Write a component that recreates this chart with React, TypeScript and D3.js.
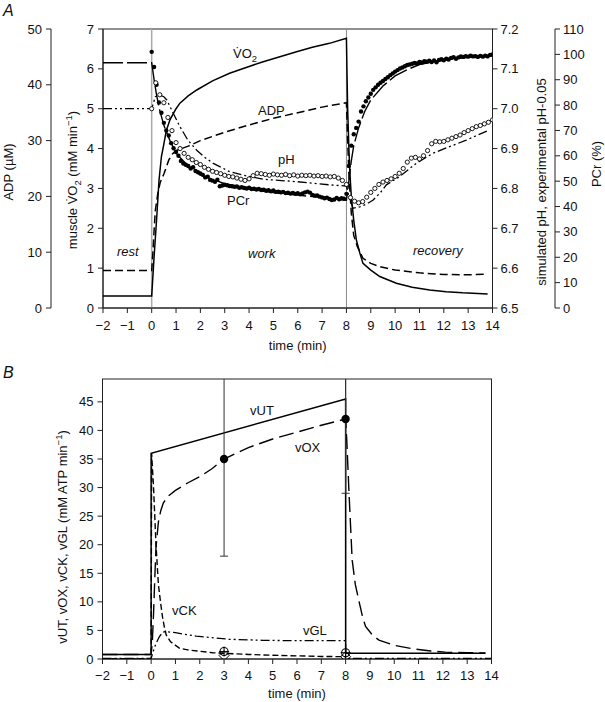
import React from "react";
import * as d3 from "d3";

const FONT = "'Liberation Sans', Arial, Helvetica, sans-serif";

// ---------- tick values ----------
const xTickValues = [-2, -1, 0, 1, 2, 3, 4, 5, 6, 7, 8, 9, 10, 11, 12, 13, 14];
const vo2TickValues = [0, 1, 2, 3, 4, 5, 6, 7];
const adpTickValues = [0, 10, 20, 30, 40, 50];
const phTickValues = [6.5, 6.6, 6.7, 6.8, 6.9, 7.0, 7.1, 7.2];
const pcrTickValues = [0, 10, 20, 30, 40, 50, 60, 70, 80, 90, 100, 110];
const rateTickValues = [0, 5, 10, 15, 20, 25, 30, 35, 40, 45];

// ---------- panel A: simulated curves [time, value] ----------
const vo2Sim: [number, number][] = [
  [-2, 0.3], [0, 0.3], [0.05, 0.8], [0.1, 1.3], [0.2, 2.2], [0.3, 3.2], [0.4, 3.8], [0.48, 4.05],
  [0.6, 4.45], [0.75, 4.72], [1, 5.0], [1.16, 5.14], [1.5, 5.32], [1.85, 5.47], [2.5, 5.7],
  [3.2, 5.89], [4, 6.06], [4.58, 6.18], [5.3, 6.31], [5.95, 6.43], [6.6, 6.54], [7.3, 6.64],
  [8, 6.77], [8.02, 6.0], [8.05, 5.0], [8.1, 4.0], [8.15, 3.3], [8.2, 2.8], [8.3, 2.2],
  [8.41, 1.7], [8.55, 1.38], [8.68, 1.12], [9, 0.95], [9.37, 0.79], [10.05, 0.62], [10.7, 0.52],
  [11.42, 0.45], [12.1, 0.41], [12.78, 0.38], [13.8, 0.35],
];
const adpSim: [number, number][] = [
  [-2, 6.7], [0, 6.7], [0.05, 10], [0.1, 14], [0.15, 17.5], [0.25, 20.5], [0.35, 22.5],
  [0.5, 24], [0.7, 26.5], [0.85, 27.6], [1, 28.2], [1.5, 29], [2, 30], [3, 31.5], [4, 32.8],
  [5, 34], [6, 35], [7, 36], [8, 36.8], [8.05, 30], [8.1, 24], [8.2, 17], [8.3, 13],
  [8.45, 11], [8.68, 8.9], [9, 8], [9.37, 7.4], [10, 6.8], [11, 6.3], [12, 6.0], [13, 5.95],
  [13.8, 6.1],
];
const phSim: [number, number][] = [
  [-2, 7.0], [0, 7.0], [0.15, 7.03], [0.34, 7.034], [0.5, 7.03], [0.62, 7.022], [0.89, 6.988],
  [1.16, 6.955], [1.5, 6.92], [1.85, 6.896], [2.2, 6.877], [2.53, 6.863], [3.2, 6.842],
  [4, 6.83], [4.58, 6.823], [5.95, 6.817], [7.3, 6.809], [8, 6.806], [8.1, 6.78], [8.27, 6.75],
  [8.55, 6.754], [8.8, 6.76], [9.1, 6.771], [9.4, 6.79], [9.64, 6.809], [10.19, 6.83],
  [10.87, 6.863], [11.55, 6.888], [12.24, 6.905], [12.92, 6.921], [13.88, 6.947],
];
const pcrSim: [number, number][] = [
  [-2, 96.7], [0, 96.7], [0.1, 90], [0.2, 84], [0.3, 79], [0.5, 72], [0.75, 66], [1, 61],
  [1.5, 56], [2, 52.5], [3, 49], [4, 47], [5, 45.5], [6, 44.5], [7, 43.5], [8, 42.5],
  [8.1, 50], [8.2, 58], [8.3, 64], [8.5, 71], [8.75, 77.5], [9, 82], [9.5, 87.5], [10, 91.5],
  [10.5, 94], [11, 96], [12, 97.8], [13, 98.8], [14, 99.3],
];

// ---------- panel A: experimental data ----------
const pcrExpStep = 0.1; // min
const pcrExp = [
  101, 95, 88, 81, 77, 73, 70, 68, 65, 63,
  61.5, 60, 58, 57, 56.5, 56, 55, 55.5, 54, 53.5,
  53, 52.5, 51.5, 51.8, 50.5, 50.2, 49.8, 50.6, 48, 48.3,
  48.6, 48.4, 48.1, 48, 47.8, 47.9, 47.4, 47.6, 47.3, 47.1,
  47.4, 46.9, 47, 46.7, 46.9, 46.5, 46.6, 46.2, 46.4, 46,
  46.3, 45.8, 45.9, 45.6, 45.8, 45.3, 45.5, 45.1, 45.4, 45,
  45.3, 44.8, 45.2, 45.6, 45.9, 45.5, 44.6, 44.3, 44.4, 43.9,
  43.6, 43.3, 43.5, 43, 42.6, 42.8, 43.4, 42.9, 43.3, 43.1,
  45, 56, 64, 68.5, 71, 73.5, 77.5, 79.5, 81.5, 83,
  84.5, 86, 87, 88, 88.8, 89.5, 90.3, 91, 91.8, 92.5,
  93.2, 93.8, 94.4, 94.8, 95.3, 95.8, 96, 96.3, 96.6, 96.4,
  97, 96.8, 97.3, 97.1, 97.5, 97, 97.6, 96.9, 97.8, 98.1,
  97.7, 98.3, 98, 98.6, 98.9, 98.3, 98.8, 99.2, 99, 99.3,
  99.1, 99.5, 99.2, 99.3, 99, 99.4, 99.1, 99.5, 99.2, 99.8,
  100,
];
const phExpStep = 1 / 6; // min
const phExp = [
  7.0, 7.065, 7.035, 7.015, 6.978, 6.945,
  6.915, 6.9, 6.888, 6.878, 6.872, 6.865,
  6.86, 6.853, 6.848, 6.843, 6.84, 6.837,
  6.833, 6.83, 6.829, 6.826, 6.823, 6.82,
  6.824, 6.832, 6.838, 6.837, 6.835, 6.833,
  6.836, 6.834, 6.833, 6.835, 6.832, 6.834,
  6.831, 6.833, 6.832, 6.833, 6.831, 6.832,
  6.83, 6.831, 6.829, 6.83, 6.826, 6.82,
  6.81, 6.777, 6.768, 6.764, 6.767, 6.778,
  6.79, 6.8, 6.81, 6.816, 6.82, 6.824,
  6.83, 6.838, 6.85, 6.866, 6.876, 6.878,
  6.874, 6.882, 6.895, 6.912, 6.918, 6.917,
  6.918, 6.922, 6.926, 6.93, 6.934, 6.94,
  6.945, 6.95, 6.955, 6.958, 6.962, 6.966,
  6.972,
];

// ---------- panel B ----------
const vUT: [number, number][] = [[-2, 0.8], [0, 0.8], [0, 36], [8, 45.5], [8, 1.0], [13.75, 1.0]];
const vOX: [number, number][] = [
  [-2, 0.8], [0, 0.8], [0.05, 3], [0.1, 8], [0.15, 14], [0.2, 19.5], [0.3, 24], [0.4, 26],
  [0.5, 27.3], [0.7, 28.5], [1, 29.5], [1.5, 30.8], [2, 31.9], [2.5, 33.3], [3, 35], [4, 37],
  [5, 38.5], [6, 39.7], [7, 40.9], [8, 42], [8.05, 38], [8.14, 29], [8.27, 17.3], [8.4, 13],
  [8.54, 10.3], [8.7, 7.3], [8.82, 5.7], [9.1, 4.2], [9.37, 3.3], [10, 2.4], [10.73, 1.8],
  [11.5, 1.4], [12.1, 1.2], [13, 1.1], [13.75, 1.05],
];
const vCK: [number, number][] = [
  [-2, 0.05], [0, 0.05], [0.02, 36], [0.1, 30], [0.2, 20], [0.3, 13], [0.4, 9.5], [0.48, 7],
  [0.55, 5.5], [0.62, 4.2], [0.8, 3.0], [1.16, 1.9], [1.5, 1.6], [2, 1.35], [2.53, 1.1],
  [3, 1.0], [4, 0.8], [5, 0.65], [6, 0.55], [7, 0.45], [8, 0.4],
];
const vGL: [number, number][] = [
  [-2, 0.1], [0, 0.1], [0.1, 1.5], [0.2, 2.7], [0.34, 3.9], [0.48, 4.7], [0.6, 4.8], [1, 4.6],
  [1.85, 4.0], [3.2, 3.45], [4.58, 3.27], [5.95, 3.2], [8, 3.2], [8, 0.1], [14, 0.1],
];
const vOXMeasured: [number, number, number][] = [[3, 35, 17], [8, 42, 13]]; // time, mean, sd
const vCKMeasured: [number, number][] = [[3, 1.3], [8, 1.1]];

// ---------- layout ----------
const xA = d3.scaleLinear().domain([-2, 14]).range([103, 492.5]);
const yVO2 = d3.scaleLinear().domain([0, 7]).range([308, 29]);
const yADP = d3.scaleLinear().domain([0, 50]).range([308, 29]);
const yPH = d3.scaleLinear().domain([6.5, 7.2]).range([308, 29]);
const yPCr = d3.scaleLinear().domain([0, 110]).range([308, 29]);

const xB = d3.scaleLinear().domain([-2, 14]).range([102.5, 491.5]);
const yB = d3.scaleLinear().domain([0, 49]).range([659, 379]);

const fmtX = (v: number) => (v < 0 ? "\u2212" + Math.abs(v) : String(v));

function path(data: [number, number][], x: d3.ScaleLinear<number, number>, y: d3.ScaleLinear<number, number>) {
  return d3.line<[number, number]>().x((d) => x(d[0])).y((d) => y(d[1]))(data) || "";
}

const AX = "#222";
const TS = 13;
const SUB = 9.5;

function XAxis({ x, y0, labelY, titleY }: { x: d3.ScaleLinear<number, number>; y0: number; labelY: number; titleY: number }) {
  const [a, b] = x.range();
  return (
    <g>
      <line x1={a} x2={b} y1={y0} y2={y0} stroke={AX} strokeWidth={1} />
      {xTickValues.map((t) => (
        <g key={t}>
          <line x1={x(t)} x2={x(t)} y1={y0} y2={y0 + 5} stroke={AX} />
          <text x={x(t)} y={labelY} textAnchor="middle" fontSize={TS}>{fmtX(t)}</text>
        </g>
      ))}
      <text x={(a + b) / 2} y={titleY} textAnchor="middle" fontSize={TS}>time (min)</text>
    </g>
  );
}

function YAxisLeft({ y, ticks, ax, fmt }: { y: d3.ScaleLinear<number, number>; ticks: number[]; ax: number; fmt?: (v: number) => string }) {
  const [r0, r1] = y.range();
  return (
    <g>
      <line x1={ax} x2={ax} y1={r0} y2={r1} stroke={AX} />
      {ticks.map((t) => (
        <g key={t}>
          <line x1={ax - 5} x2={ax} y1={y(t)} y2={y(t)} stroke={AX} />
          <text x={ax - 9} y={y(t) + 4.5} textAnchor="end" fontSize={TS}>{fmt ? fmt(t) : String(t)}</text>
        </g>
      ))}
    </g>
  );
}

function YAxisRight({ y, ticks, ax, fmt }: { y: d3.ScaleLinear<number, number>; ticks: number[]; ax: number; fmt?: (v: number) => string }) {
  const [r0, r1] = y.range();
  return (
    <g>
      <line x1={ax} x2={ax} y1={r0} y2={r1} stroke={AX} />
      {ticks.map((t) => (
        <g key={t}>
          <line x1={ax} x2={ax + 5} y1={y(t)} y2={y(t)} stroke={AX} />
          <text x={ax + 8} y={y(t) + 4.5} textAnchor="start" fontSize={TS}>{fmt ? fmt(t) : String(t)}</text>
        </g>
      ))}
    </g>
  );
}

export default function App() {
  const pcrPts = pcrExp.map((v, i) => [i * pcrExpStep, v] as [number, number]);
  const phPts = phExp.map((v, i) => [i * phExpStep, v] as [number, number]);
  const dashDotDot = "9,3,2,3,2,3";

  return (
    <svg
      width={605}
      height={702}
      style={{ position: "absolute", left: 0, top: 0, background: "#fff" }}
      fontFamily={FONT}
      fontSize={TS}
      fill="#111"
    >
      <defs>
        <clipPath id="clipA">
          <rect x={103} y={29} width={389.5} height={279} />
        </clipPath>
        <clipPath id="clipB">
          <rect x={102.5} y={379} width={389} height={280} />
        </clipPath>
      </defs>

      {/* ================= Panel A ================= */}
      <text x={3} y={16} fontSize={16} fontStyle="italic">A</text>

      <rect x={103} y={29} width={389.5} height={279} fill="none" stroke={AX} strokeWidth={1} />
      <line x1={xA(0)} x2={xA(0)} y1={29} y2={308} stroke="#aaa" strokeWidth={1.5} />
      <line x1={xA(8)} x2={xA(8)} y1={29} y2={308} stroke="#888" strokeWidth={1} />

      <XAxis x={xA} y0={308} labelY={330} titleY={350} />
      <YAxisLeft y={yVO2} ticks={vo2TickValues} ax={103} />
      <YAxisLeft y={yADP} ticks={adpTickValues} ax={51} />
      <YAxisRight y={yPH} ticks={phTickValues} ax={492.5} fmt={(v) => v.toFixed(1)} />
      <YAxisRight y={yPCr} ticks={pcrTickValues} ax={555} />

      {/* axis titles */}
      <text transform="translate(13,172) rotate(-90)" textAnchor="middle" fontSize={TS}>ADP (µM)</text>
      <text transform="translate(77,180) rotate(-90)" textAnchor="middle" fontSize={TS}>
        muscle V{"\u0307"}O<tspan fontSize={SUB} dy={4}>2</tspan>
        <tspan fontSize={TS} dy={-4}> (mM min</tspan>
        <tspan fontSize={SUB} dy={-5}>{"\u22121"}</tspan>
        <tspan fontSize={TS} dy={5}>)</tspan>
      </text>
      <text transform="translate(546,182) rotate(-90)" textAnchor="middle" fontSize={TS}>
        simulated pH, experimental pH-0.05
      </text>
      <text transform="translate(601,164) rotate(-90)" textAnchor="middle" fontSize={TS}>PCr (%)</text>

      <g clipPath="url(#clipA)" fill="none" stroke="#000">
        <path d={path(pcrSim, xA, yPCr)} strokeWidth={1.4} strokeDasharray="20,4" />
        <path d={path(phSim, xA, yPH)} strokeWidth={1.3} strokeDasharray={dashDotDot} />
        <path d={path(adpSim, xA, yADP)} strokeWidth={1.5} strokeDasharray="8,4" />
        <path d={path(vo2Sim, xA, yVO2)} strokeWidth={1.5} />
        {pcrPts.map((d, i) => (
          <circle key={"p" + i} cx={xA(d[0])} cy={yPCr(d[1])} r={2.2} fill="#000" stroke="none" />
        ))}
        {phPts.map((d, i) => (
          <circle key={"h" + i} cx={xA(d[0])} cy={yPH(d[1])} r={2.1} fill="#fff" stroke="#000" strokeWidth={0.9} />
        ))}
      </g>

      {/* curve labels */}
      <text x={233} y={58} fontSize={TS}>
        V{"\u0307"}O<tspan fontSize={SUB} dy={4}>2</tspan>
      </text>
      <text x={258} y={115} fontSize={TS}>ADP</text>
      <text x={278} y={164} fontSize={TS}>pH</text>
      <text x={227} y={205} fontSize={TS}>PCr</text>
      <text x={117} y={256} fontSize={TS} fontStyle="italic">rest</text>
      <text x={248} y={258} fontSize={TS} fontStyle="italic">work</text>
      <text x={413} y={255} fontSize={TS} fontStyle="italic">recovery</text>

      {/* ================= Panel B ================= */}
      <text x={3} y={378} fontSize={16} fontStyle="italic">B</text>
      <rect x={102.5} y={379} width={389} height={280} fill="none" stroke={AX} strokeWidth={1} />
      <XAxis x={xB} y0={659} labelY={680} titleY={698} />
      <YAxisLeft y={yB} ticks={rateTickValues} ax={102.5} />
      <text transform="translate(67,537) rotate(-90)" textAnchor="middle" fontSize={TS}>
        vUT, vOX, vCK, vGL (mM ATP min<tspan fontSize={SUB} dy={-5}>{"\u22121"}</tspan>
        <tspan fontSize={TS} dy={5}>)</tspan>
      </text>

      <g clipPath="url(#clipB)" fill="none" stroke="#000">
        <line x1={xB(8)} x2={xB(8)} y1={379} y2={659} stroke="#111" strokeWidth={1} />
        <path d={path(vGL, xB, yB)} strokeWidth={1.3} strokeDasharray={dashDotDot} />
        <path d={path(vCK, xB, yB)} strokeWidth={1.4} strokeDasharray="6,3" />
        <path d={path(vOX, xB, yB)} strokeWidth={1.4} strokeDasharray="15,6" />
        <path d={path(vUT, xB, yB)} strokeWidth={1.5} />
        {vOXMeasured.map(([t, m, sd]) => (
          <g key={"e" + t}>
            <line x1={xB(t)} x2={xB(t)} y1={yB(m - sd)} y2={yB(m + sd)} stroke="#333" strokeWidth={1} />
            <line x1={xB(t) - 4} x2={xB(t) + 4} y1={yB(m - sd)} y2={yB(m - sd)} stroke="#333" strokeWidth={1} />
            <circle cx={xB(t)} cy={yB(m)} r={4.2} fill="#000" stroke="none" />
          </g>
        ))}
        {vCKMeasured.map(([t, v]) => (
          <g key={"c" + t}>
            <path
              d={`M${xB(t)},${yB(v) - 1} l5,5 l-5,5 l-5,-5 z`}
              fill="none"
              stroke="#000"
              strokeWidth={1}
            />
            <circle cx={xB(t)} cy={yB(v)} r={4} fill="none" stroke="#000" strokeWidth={1.1} />
            <line x1={xB(t) - 5} x2={xB(t) + 5} y1={yB(v)} y2={yB(v)} strokeWidth={1} />
            <line x1={xB(t)} x2={xB(t)} y1={yB(v) - 5} y2={yB(v) + 5} strokeWidth={1} />
          </g>
        ))}
      </g>

      <text x={250} y={415} fontSize={TS}>vUT</text>
      <text x={295} y={452} fontSize={TS}>vOX</text>
      <text x={172} y={615} fontSize={TS}>vCK</text>
      <text x={303} y={635} fontSize={TS}>vGL</text>
    </svg>
  );
}
